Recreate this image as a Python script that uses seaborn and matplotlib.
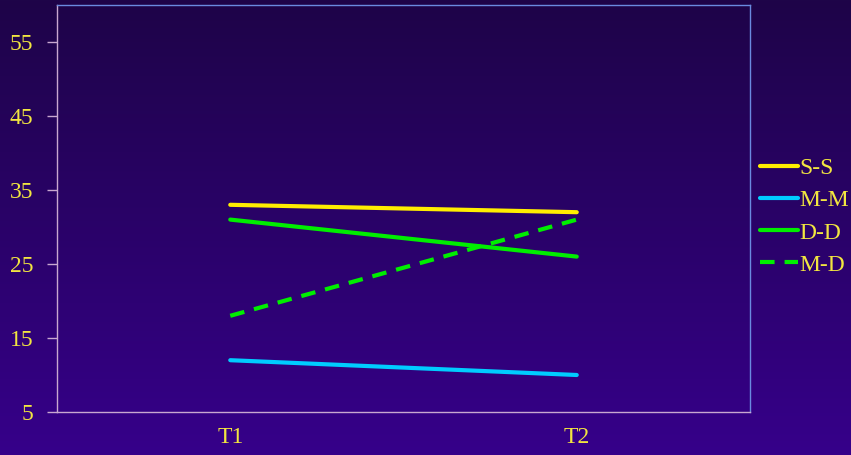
import numpy as np
import pandas as pd
import seaborn as sns
from matplotlib import pyplot as plt

# data
times = ['T1', 'T2']
series = ['S-S', 'M-M', 'D-D', 'M-D']
ss = [33, 32]
mm = [12, 10]
dd = [31, 26]
md = [18, 31]
y_ticks = [5, 15, 25, 35, 45, 55]

colors = {'S-S': '#ffee00', 'M-M': '#00ccff', 'D-D': '#00ee00', 'M-D': '#00ee00'}
dashes = {'S-S': '', 'M-M': '', 'D-D': '', 'M-D': (3.5, 2.4)}

data = pd.DataFrame({
    'time': times * 4,
    'score': ss + mm + dd + md,
    'group': [s for s in series for _ in times],
})

sns.set_style('white')
plt.rcParams['font.family'] = ['Liberation Serif', 'DejaVu Serif']

fig = plt.figure(figsize=(8.51, 4.55), dpi=100)

# gradient backdrop
bg = fig.add_axes([0, 0, 1, 1], zorder=0)
grad = np.linspace(0, 1, 256)[:, None]
top = np.array([30, 4, 72]) / 255
bottom = np.array([54, 0, 138]) / 255
img = top[None, None, :] * (1 - grad[:, :, None]) + bottom[None, None, :] * grad[:, :, None]
bg.imshow(img, aspect='auto', extent=[0, 1, 0, 1])
bg.set_axis_off()

ax = fig.add_axes([57 / 851, 1 - 412 / 455, (750 - 57) / 851, (412 - 5) / 455], zorder=1)
ax.patch.set_alpha(0)

sns.lineplot(data=data, x='time', y='score', hue='group', style='group',
             palette=colors, dashes=dashes, linewidth=3, sort=False, ax=ax)

ax.set_xlim(-0.5, 1.5)
ax.set_ylim(5, 60)
ax.set_yticks(y_ticks)
ax.set_xticks([0, 1])
ax.set_xticks([-0.5, 0.5, 1.5], minor=True)
ax.set_xticklabels(times)
ax.set_xlabel('')
ax.set_ylabel('')

ax.tick_params(axis='x', which='major', length=0, pad=11, labelsize=17, labelcolor='#f2e640')
ax.tick_params(axis='x', which='minor', length=7, width=1, color='#c8a8d0', direction='out')
ax.tick_params(axis='y', length=7, width=1, color='#c8a8d0', direction='out', pad=10,
               labelsize=17, labelcolor='#f2e640', left=True)

ax.spines['left'].set_color('#c8a8d0')
ax.spines['bottom'].set_color('#c8a8d0')
ax.spines['top'].set_color('#6a8ae0')
ax.spines['right'].set_color('#6a8ae0')
for s in ax.spines.values():
    s.set_linewidth(1)
    s.set_visible(True)

leg = ax.legend(loc='upper left', bbox_to_anchor=(755 / 851, 1 - 153 / 455),
                bbox_transform=fig.transFigure, frameon=False, fontsize=17,
                handlelength=1.6, handletextpad=0.06, labelspacing=0.45,
                borderaxespad=0, borderpad=0.2)
for t in leg.get_texts():
    t.set_color('#f2e640')

fig.savefig('out.png', dpi=100)
